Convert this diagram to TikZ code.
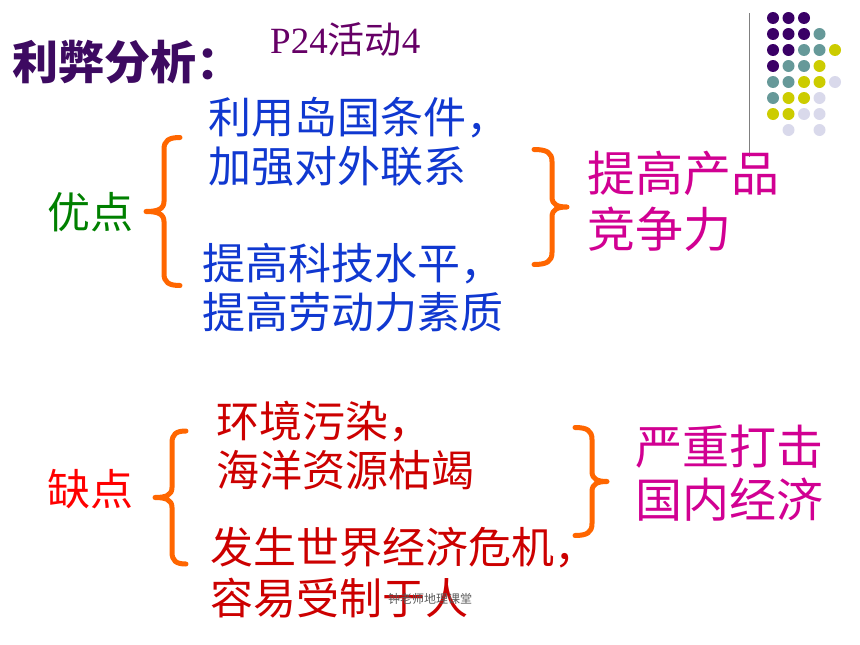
\documentclass[tikz,border=0pt]{standalone}
\usepackage{fontspec}
\setmainfont{Noto Sans CJK SC}
\newfontfamily\serifrm{Liberation Serif}
\usetikzlibrary{positioning}

\definecolor{titlepurple}{HTML}{3D0A61}
\definecolor{pagepurple}{HTML}{660066}
\definecolor{problue}{HTML}{1038D0}
\definecolor{progreen}{HTML}{008000}
\definecolor{conred}{HTML}{CC0000}
\definecolor{labelred}{HTML}{FF0000}
\definecolor{resultpink}{HTML}{D10092}
\definecolor{braceorange}{HTML}{FF6600}
\definecolor{dotP}{HTML}{3A0066}
\definecolor{dotT}{HTML}{669999}
\definecolor{dotY}{HTML}{CCCC00}
\definecolor{dotL}{HTML}{D9D9EB}

\tikzset{
  txt/.style={anchor=west, inner sep=0pt, align=left},
  pointtxt/.style={txt, font=\fontsize{43}{49}\selectfont},
  resulttxt/.style={txt, text=resultpink, font=\fontsize{48}{56}\selectfont},
  curlyline/.style={draw=braceorange, line width=5pt, line cap=round, line join=round},
}

% #1 end x, #2 arm x, #3 tip x, #4 top y, #5 bottom y
\newcommand{\curly}[5]{%
  \pgfmathsetmacro\bracemid{(#4+#5)/2}
  \draw[curlyline] (#1,#4) .. controls ({#2+0.3*(#1-#2)},#4) and (#2,{#4+3}) .. (#2,{#4+12})
    -- (#2,{\bracemid-10}) .. controls (#2,{\bracemid-2}) and ({#2+0.4*(#3-#2)},\bracemid) .. (#3,\bracemid)
    .. controls ({#2+0.4*(#3-#2)},\bracemid) and (#2,{\bracemid+2}) .. (#2,{\bracemid+10})
    -- (#2,{#5-12}) .. controls (#2,{#5-3}) and ({#2+0.3*(#1-#2)},#5) .. (#1,#5);}

\begin{document}
\begin{tikzpicture}[x=1pt, y=-1pt]
\useasboundingbox (0,0) rectangle (860,645);

% heading
\node (title) [txt, text=titlepurple, font=\fontsize{46}{50}\selectfont\bfseries] at (12,62) {利弊分析：};
\node (page) [txt, text=pagepurple, font=\fontsize{37}{40}\selectfont] at (270,39) {{\serifrm P24}活动{\serifrm 4}};

% corner dots
\foreach \i/\j/\c in {0/0/dotP,1/0/dotP,2/0/dotP,
    0/1/dotP,1/1/dotP,2/1/dotP,3/1/dotT,
    0/2/dotP,1/2/dotP,2/2/dotT,3/2/dotT,4/2/dotY,
    0/3/dotP,1/3/dotT,2/3/dotT,3/3/dotY,
    0/4/dotT,1/4/dotT,2/4/dotY,3/4/dotY,4/4/dotL,
    0/5/dotT,1/5/dotY,2/5/dotY,3/5/dotL,
    0/6/dotY,1/6/dotY,2/6/dotL,3/6/dotL,
    1/7/dotL,3/7/dotL}
  \fill[\c] (773+15.5*\i, 18+16*\j) circle (6pt);
\coordinate (rulea) at (749,13);
\coordinate (ruleb) at (749,157);
\draw[gray, line width=1pt] (rulea) -- (ruleb);

% advantages
\node (pro) [txt, text=progreen, font=\fontsize{43}{49}\selectfont] at (47,212) {优点};
\node (pro1) [pointtxt, text=problue] at (208,141.5) {利用岛国条件，\\加强对外联系};
\node (pro2) [pointtxt, text=problue] at (202,287.5) {提高科技水平，\\提高劳动力素质};
\node (proresult) [resulttxt] at (587,201.5) {提高产品\\竞争力};
\curly{180}{164}{146}{137.5}{285.5}
\curly{534}{552}{567}{149.5}{264.5}

% disadvantages
\node (con) [txt, text=labelred, font=\fontsize{43}{49}\selectfont] at (47,489) {缺点};
\node (con1) [pointtxt, text=conred] at (216,446) {环境污染，\\海洋资源枯竭};
\node (con2) [pointtxt, text=conred, font=\fontsize{43}{51}\selectfont] at (210,572.5) {发生世界经济危机，\\容易受制于人};
\node (conresult) [resulttxt, font=\fontsize{47}{53}\selectfont] at (635,473.5) {严重打击\\国内经济};
\curly{186}{172}{155}{431}{564}
\curly{575}{592}{607}{427.5}{535.5}

\node (mark) [txt, text=black!65, font=\fontsize{12}{14}\selectfont] at (388,599) {钟老师地理课堂};
\end{tikzpicture}
\end{document}
